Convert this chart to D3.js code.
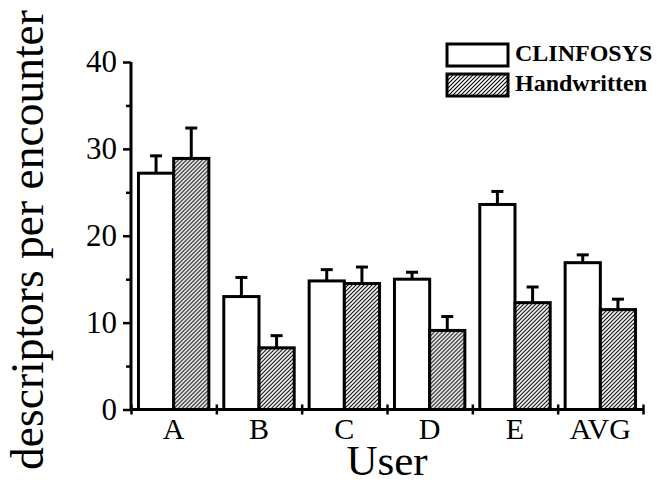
<!DOCTYPE html>
<html>
<head>
<meta charset="utf-8">
<script src="https://cdn.jsdelivr.net/npm/d3@7"></script>
<style>
  html, body { margin: 0; padding: 0; background: #fff; }
  svg { display: block; font-family: 'Liberation Serif', Tinos, 'Times New Roman', serif; }
  svg text { font-family: 'Liberation Serif', Tinos, 'Times New Roman', serif !important; fill: #000; }
</style>
</head>
<body>
<svg id="chart" width="668" height="483" font-family="Liberation Serif"></svg>
<script>
const categories = ["A", "B", "C", "D", "E", "AVG"];
const seriesNames = ["CLINFOSYS", "Handwritten"];
const clinfosys = [27.2, 13.0, 14.8, 15.0, 23.6, 16.9];
const clinfosysErr = [2.0, 2.2, 1.3, 0.8, 1.5, 0.9];
const handwritten = [28.9, 7.1, 14.5, 9.1, 12.3, 11.5];
const handwrittenErr = [3.5, 1.4, 1.9, 1.6, 1.8, 1.2];
const yMajorTicks = [0, 10, 20, 30, 40];
const yMinorTicks = [5, 15, 25, 35];
const yLabel = "descriptors per encounter";
const xLabel = "User";

const svg = d3.select("#chart");
const mLeft = 131, mRight = 643, mTop = 62, mBottom = 409.5;

const defs = svg.append("defs");
const pat = defs.append("pattern")
  .attr("id", "hatch").attr("patternUnits", "userSpaceOnUse")
  .attr("width", 4).attr("height", 4);
pat.append("rect").attr("width", 4).attr("height", 4).attr("fill", "#fff");
pat.append("path").attr("d", "M-1,1 L1,-1 M0,4 L4,0 M3,5 L5,3")
  .attr("stroke", "#000").attr("stroke-width", 1.1);

const x = d3.scaleBand().domain(categories).range([mLeft, mRight])
  .paddingInner(0.175).paddingOuter(0.0875);
const xs = d3.scaleBand().domain(seriesNames).range([0, x.bandwidth()]);
const y = d3.scaleLinear().domain([0, 40]).range([mBottom, mTop]);
const xb = d3.scaleLinear().domain([0, categories.length]).range([mLeft, mRight]);

const rows = categories.map((c, i) => ({
  cat: c,
  vals: [
    { s: seriesNames[0], v: clinfosys[i], e: clinfosysErr[i] },
    { s: seriesNames[1], v: handwritten[i], e: handwrittenErr[i] }
  ]
}));

const groups = svg.append("g").selectAll("g").data(rows).join("g")
  .attr("transform", d => `translate(${x(d.cat)},0)`);

// error bars
groups.selectAll("g.err").data(d => d.vals).join("g").attr("class", "err")
  .each(function(d) {
    const g = d3.select(this);
    const cx = xs(d.s) + xs.bandwidth() / 2;
    g.append("line").attr("x1", cx).attr("x2", cx)
      .attr("y1", y(d.v)).attr("y2", y(d.v + d.e))
      .attr("stroke", "#000").attr("stroke-width", 3);
    g.append("line").attr("x1", cx - 6).attr("x2", cx + 6)
      .attr("y1", y(d.v + d.e)).attr("y2", y(d.v + d.e))
      .attr("stroke", "#000").attr("stroke-width", 3);
  });

groups.selectAll("rect").data(d => d.vals).join("rect")
  .attr("x", d => xs(d.s))
  .attr("y", d => y(d.v))
  .attr("width", xs.bandwidth())
  .attr("height", d => y(0) - y(d.v))
  .attr("fill", d => d.s === seriesNames[0] ? "#fff" : "url(#hatch)")
  .attr("stroke", "#000").attr("stroke-width", 3);

// y axis
const yAxis = svg.append("g").attr("transform", `translate(${mLeft},0)`)
  .call(d3.axisLeft(y).tickValues(yMajorTicks).tickSize(8).tickPadding(6).tickFormat(d3.format("d")));
yAxis.attr("font-family", null).attr("font-size", null);
yAxis.select(".domain").attr("d", `M0,${mBottom + 1}V${mTop}`).attr("stroke-width", 3);
yAxis.selectAll(".tick line").attr("stroke-width", 2.5);
yAxis.selectAll(".tick text").style("font-size", "31px");
const yMinor = svg.append("g").attr("transform", `translate(${mLeft},0)`)
  .call(d3.axisLeft(y).tickValues(yMinorTicks).tickSize(5).tickFormat(""));
yMinor.select(".domain").remove();
yMinor.selectAll(".tick line").attr("stroke-width", 2.5);

// x axis
const xAxis = svg.append("g").attr("transform", `translate(0,${mBottom})`)
  .call(d3.axisBottom(xb).tickValues(d3.range(categories.length + 1)).tickSize(5).tickFormat(""));
xAxis.select(".domain").attr("d", `M${mLeft},0H${mRight}`).attr("stroke-width", 3);
xAxis.selectAll(".tick line").attr("y1", -5).attr("y2", 5).attr("stroke-width", 2.5);

const xCat = svg.append("g").attr("transform", `translate(0,${mBottom})`)
  .call(d3.axisBottom(x).tickSize(0).tickPadding(8));
xCat.attr("font-family", null).attr("font-size", null);
xCat.select(".domain").remove();
xCat.selectAll(".tick text").style("font-size", "30px").attr("dy", "0.72em");

// axis titles
svg.append("text").attr("x", (mLeft + mRight) / 2).attr("y", 475)
  .attr("text-anchor", "middle").style("font-size", "43px").text(xLabel);
svg.append("text").attr("transform", "translate(43,240) rotate(-90)")
  .attr("text-anchor", "middle").style("font-size", "45.5px").text(yLabel);

// legend
const legend = svg.append("g");
seriesNames.forEach((s, i) => {
  const ly = 44 + i * 30;
  legend.append("rect").attr("x", 447).attr("y", ly).attr("width", 61).attr("height", 22)
    .attr("fill", i === 0 ? "#fff" : "url(#hatch)").attr("stroke", "#000").attr("stroke-width", 3);
  legend.append("text").attr("x", 515).attr("y", ly + 17).style("font-size", "24px")
    .style("font-weight", "bold").text(s);
});
</script>
</body>
</html>
